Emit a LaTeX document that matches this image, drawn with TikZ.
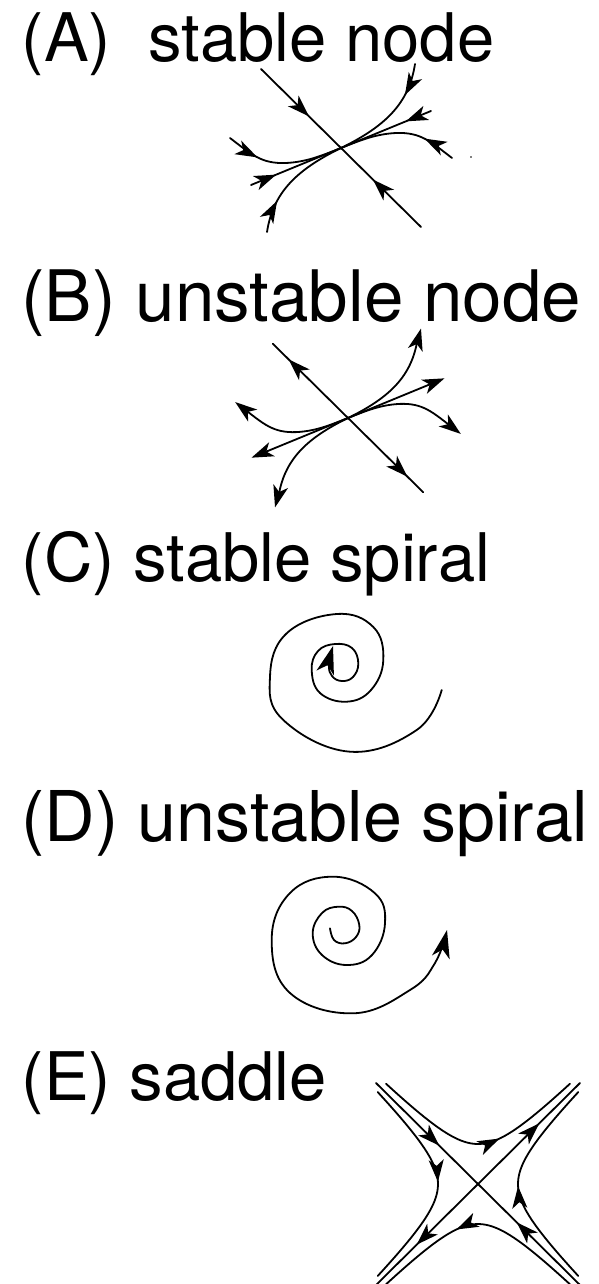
\documentclass[tikz,border=0pt]{standalone}
\usepackage{fontspec}
\setmainfont{TeX Gyre Heros}
\usetikzlibrary{
	arrows.meta,
	decorations.markings
}
\tikzset{
	traj/.style={line width=1.8pt},
	tipin/.style={postaction={decorate}, decoration={markings,
		mark=at position #1 with {\arrow{Stealth[length=22pt,width=15pt,inset=6pt]}}}},
	tipout/.style={postaction={decorate}, decoration={markings,
		mark=at position #1 with {\arrow{Stealth[length=22pt,width=15pt,inset=6pt,reversed]}}}},
	spiraltip/.style={-{Stealth[length=28pt,width=18pt,inset=8pt]}},
	paneltitle/.style={anchor=base west, inner sep=0pt, font=\fontsize{67}{80}\selectfont}
}
% node portrait: centre x, centre y, scale, mark pos (fast), mark pos (rest), tip style
\newcommand{\nodeportrait}[6]{%
	\begin{scope}[shift={(#1,#2)}, scale=#3]
		\foreach \ang in {0,180}{%
			\begin{scope}[rotate=\ang]
				\draw[traj, #6=#4] (-80,-79) -- (0,0);
				\draw[traj, #6=#5] (-90,37) -- (0,0);
				\draw[traj, #6=#5] (-111,-10) .. controls (-90,6) and (-80,16) .. (-55,15)
				.. controls (-35,14) and (-20,8) .. (0,0);
				\draw[traj, #6=#5] (-74,84) .. controls (-68,45) and (-45,22) .. (0,0);
			\end{scope}
		}
	\end{scope}
}

\begin{document}
\begin{tikzpicture}[x=1pt, y=-1pt, line cap=round, line join=round]
	\useasboundingbox (0,0) rectangle (599,1284);
	
	% -- (A) stable node -----------------------------------------
	\node[paneltitle] (titleA) at (21.5,62) {(A)\ \ stable node};
	\nodeportrait{341}{148}{1}{0.6}{0.28}{tipin}
	\fill (471,157) circle (0.9);
	
	% -- (B) unstable node ---------------------------------------
	\node[paneltitle, font=\fontsize{71}{80}\selectfont] (titleB) at (21,321) {(B) unstable node};
	\nodeportrait{348}{418}{0.94}{0.42}{0.1}{tipout}
	
	% -- (C) stable spiral ---------------------------------------
	\node[paneltitle] (titleC) at (21.5,581) {(C) stable spiral};
	\draw[traj, spiraltip] plot[smooth, tension=0.7] coordinates {
		(441.7,690) (416.7,730) (350,751.7) (283.3,720) (270,676.7)
		(286.7,633.3) (336.7,614) (373.3,627) (383.3,660) (371,690)
		(346.7,701.7) (320,693) (311.7,670) (318,651) (335,644)
		(352,648) (358.3,663.3) (353,677) (341.7,681) (332,676)
		(329,665) (333,646)};
	
	% -- (D) unstable spiral -------------------------------------
	\node[paneltitle, font=\fontsize{70}{80}\selectfont] (titleD) at (21,841) {(D) unstable spiral};
	\draw[traj, spiraltip] plot[smooth, tension=0.7] coordinates {
		(330,928.3) (334,940) (345,943.3) (356,937) (359.3,925)
		(352,911) (338.3,906.7) (322,913) (312.7,933.3) (322,955)
		(346.7,965) (372,955) (385,923.3) (375,893.3) (333.3,876.7)
		(290,893) (271.7,940) (290,993) (353.3,1013.3) (410,990)
		(435,963) (447,930)};
	
	% -- (E) saddle ----------------------------------------------
	\node[paneltitle] (titleE) at (21.5,1100) {(E) saddle};
	\begin{scope}[shift={(478,1184)}]
		\foreach \ang in {0,180}{%
			\begin{scope}[rotate=\ang]
				% stable and unstable directions
				\draw[traj, tipin=0.62] (-102,-101) -- (0,0);
				\draw[traj, tipin=0.6] (0,0) -- (102,-101);
				% hyperbolic orbits
				\draw[traj, tipin=0.6] plot[domain=-92:92, samples=60] (\x,{-sqrt(\x*\x+1600)});
				\draw[traj, tipin=0.49] plot[domain=-92:92, samples=60] ({-sqrt(\x*\x+1600)},\x);
			\end{scope}
		}
	\end{scope}
	
\end{tikzpicture}
\end{document}
